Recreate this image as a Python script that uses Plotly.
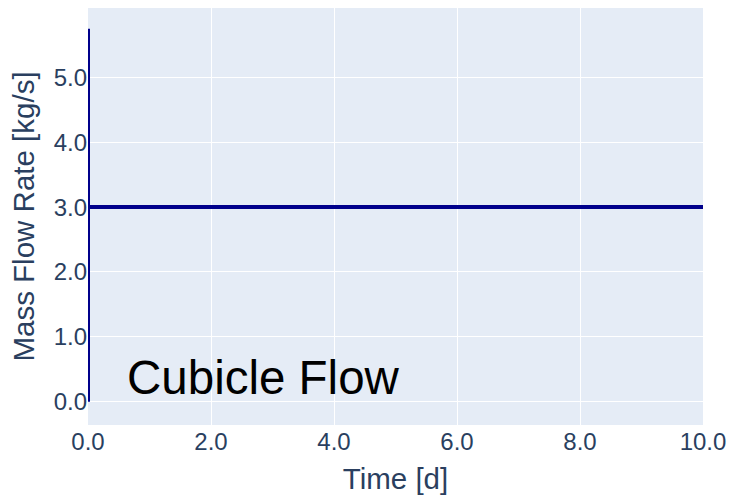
import plotly.graph_objects as go

time_d = [0.0, 0.0, 0.0, 10.0]
mass_flow = [0.0, 5.75, 3.0, 3.0]
x_ticks = [0, 2, 4, 6, 8, 10]
y_ticks = [0, 1, 2, 3, 4, 5]

fig = go.Figure()
fig.add_trace(go.Scatter(x=time_d, y=mass_flow, mode="lines", cliponaxis=False,
                         line=dict(color="#00008B", width=4), showlegend=False))

fig.update_layout(
    width=731, height=500,
    margin=dict(l=88, r=28, t=8, b=75, autoexpand=False),
    font=dict(family="Arial, Liberation Sans, sans-serif", size=24, color="#2a3f5f"),
    plot_bgcolor="#E5ECF6", paper_bgcolor="white",
    annotations=[dict(text="Cubicle Flow", xref="paper", yref="paper", x=0.06, y=0.113,
                      xanchor="left", yanchor="middle", showarrow=False,
                      font=dict(size=47.5, color="black", family="Arial, Liberation Sans, sans-serif"))],
)
fig.update_xaxes(range=[0, 10], tickvals=x_ticks, tickformat=".1f", showgrid=True,
                 gridcolor="white", gridwidth=1, zeroline=False, ticks="",
                 title=dict(text="Time [d]", font=dict(size=29.5), standoff=14))
fig.update_yaxes(range=[-0.36, 6.07], tickvals=y_ticks, tickformat=".1f", showgrid=True,
                 gridcolor="white", gridwidth=1, zeroline=False, ticks="",
                 title=dict(text="Mass Flow Rate [kg/s]", font=dict(size=29.5), standoff=10))

fig.write_html("out.html", config={"displayModeBar": False},
               post_script="document.body.style.margin='0';document.body.style.overflow='hidden';")
